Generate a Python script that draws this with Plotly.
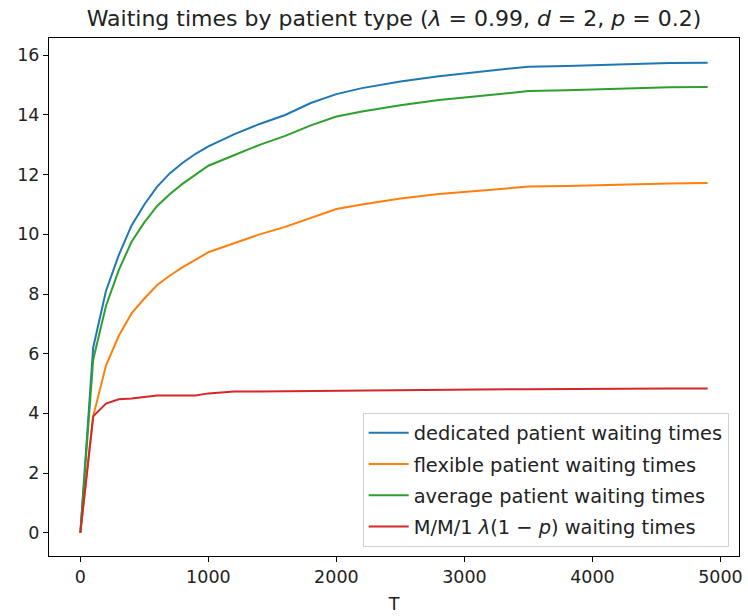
import plotly.graph_objects as go

T = [0, 100, 200, 300, 400, 500, 600, 700, 800, 900, 1000, 1200, 1400, 1600, 1800,
     2000, 2200, 2500, 2800, 3100, 3500, 3800, 4200, 4600, 4900]

dedicated = [0, 6.2, 8.1, 9.3, 10.3, 11.0, 11.6, 12.05, 12.4, 12.7, 12.95, 13.35, 13.7,
             14.0, 14.4, 14.7, 14.9, 15.12, 15.3, 15.43, 15.62, 15.64, 15.7, 15.74, 15.75]
flexible = [0, 3.9, 5.6, 6.6, 7.35, 7.85, 8.3, 8.62, 8.9, 9.15, 9.4, 9.7, 10.0,
            10.25, 10.55, 10.85, 11.0, 11.2, 11.35, 11.45, 11.6, 11.62, 11.67, 11.7, 11.72]
average = [0, 5.8, 7.6, 8.8, 9.75, 10.4, 10.95, 11.35, 11.7, 12.0, 12.3, 12.65, 13.0,
           13.3, 13.65, 13.95, 14.12, 14.33, 14.5, 14.63, 14.8, 14.83, 14.88, 14.93, 14.94]
mm1 = [0, 3.9, 4.33, 4.47, 4.5, 4.56, 4.6, 4.6, 4.6, 4.6, 4.67, 4.73, 4.73,
       4.74, 4.75, 4.76, 4.77, 4.78, 4.79, 4.8, 4.81, 4.82, 4.82, 4.83, 4.83]

names = ["dedicated patient waiting times", "flexible patient waiting times",
         "average patient waiting times", "M/M/1 <i>λ</i>(1 − <i>p</i>) waiting times"]
colors = ["#1f77b4", "#ff7f0e", "#2ca02c", "#d62728"]
series = [dedicated, flexible, average, mm1]

fig = go.Figure()
for i, (name, color, ys) in enumerate(zip(names, colors, series)):
    fig.add_trace(go.Scatter(x=T, y=ys, mode="lines", name=name, legendgroup=f"g{i}",
                             line=dict(color=color, width=2)))

font = "DejaVu Sans"
fig.update_layout(
    width=748, height=616,
    margin=dict(l=49, r=5, t=38, b=60),
    paper_bgcolor="white", plot_bgcolor="white",
    font=dict(family=font, size=17.5, color="#222"),
    title=dict(text="Waiting times by patient type (<i>λ</i> = 0.99, <i>d</i> = 2, <i>p</i> = 0.2)",
               x=0.5, xanchor="center", xref="paper", y=0.971, yanchor="middle",
               font=dict(family=font, size=22, color="#222")),
    showlegend=True,
    legend=dict(x=0.985, y=0.018, xanchor="right", yanchor="bottom",
                bgcolor="rgba(255,255,255,0.85)", bordercolor="#d0d0d0", borderwidth=1,
                font=dict(family=font, size=19.4, color="#222"),
                itemwidth=40, tracegroupgap=3),
)
fig.update_xaxes(range=[-245, 5145], tickvals=[0, 1000, 2000, 3000, 4000, 5000],
                 showgrid=False, zeroline=False, showline=True, linecolor="black",
                 linewidth=1, mirror=True, ticks="outside", ticklen=5, tickcolor="black",
                 title=dict(text="T", font=dict(family=font, size=17.5), standoff=11))
fig.update_yaxes(range=[-0.78, 16.58], tickvals=[0, 2, 4, 6, 8, 10, 12, 14, 16],
                 showgrid=False, zeroline=False, showline=True, linecolor="black",
                 linewidth=1, mirror=True, ticks="outside", ticklen=5, tickcolor="black")

fig.write_html("out.html")
